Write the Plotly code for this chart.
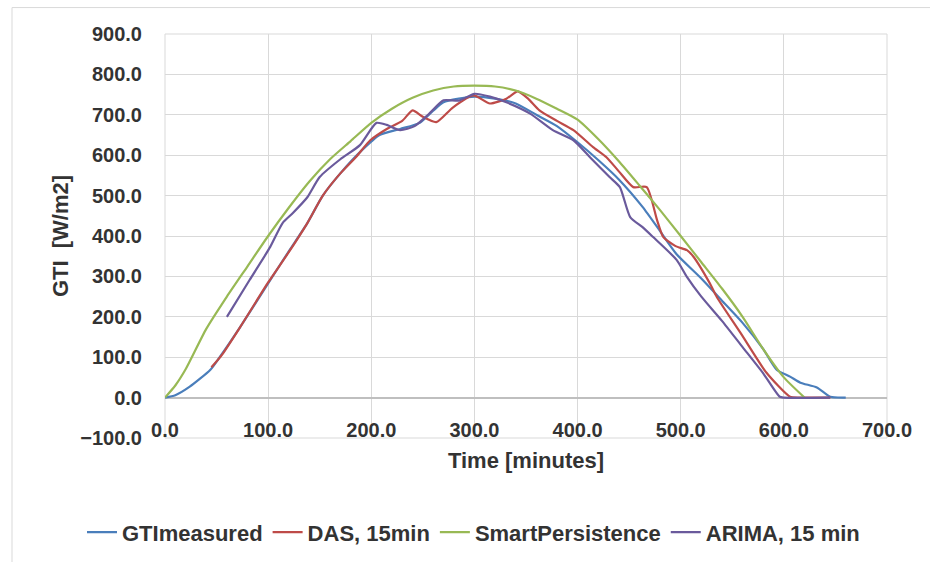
import plotly.graph_objects as go

# ---- data ----
gti_t = [0, 10, 24, 44, 53, 73, 102, 120, 138, 153, 170, 190, 208, 228, 247, 260, 270, 285, 300,
         320, 340, 360, 380, 400, 420, 440, 463, 480, 496, 520, 540, 560, 580, 593, 606, 616, 632,
         645, 660]
gti_v = [0, 6, 27, 69, 100, 175, 291, 362, 432, 500, 555, 610, 650, 665, 680, 710, 731, 740, 745,
         740, 728, 700, 672, 632, 588, 540, 472, 412, 355, 295, 240, 185, 120, 69, 52, 37, 25,
         2, 0]

das_t = [45, 55, 73, 100, 120, 138, 153, 170, 185, 199, 215, 230, 240, 250, 263, 279, 299, 315,
         331, 342, 352, 363, 380, 396, 415, 428, 440, 454, 467, 477, 483, 495, 506, 512, 528, 535,
         558, 583, 606, 615, 645]
das_v = [75, 105, 175, 285, 360, 432, 500, 555, 595, 637, 665, 685, 711, 695, 682, 718, 748, 728,
         740, 758, 740, 711, 685, 662, 620, 595, 560, 521, 521, 440, 398, 375, 365, 350, 284, 249,
         160, 62, 2, 0, 0]

sp_t = [0, 10, 20, 40, 60, 80, 100, 120, 140, 160, 180, 200, 220, 240, 260, 280, 300, 320, 340,
        360, 380, 400, 420, 440, 460, 480, 500, 520, 540, 560, 580, 600, 620]
sp_v = [0, 30, 70, 170, 250, 325, 400, 470, 535, 590, 635, 680, 715, 742, 760, 770, 772, 770, 760,
        740, 715, 688, 640, 585, 525, 464, 400, 335, 270, 200, 120, 50, 0]

ar_t = [60, 82, 102, 114, 124, 138, 150, 170, 189, 205, 215, 228, 242, 255, 270, 285, 300, 315,
        331, 354, 376, 396, 412, 431, 441, 451, 463, 473, 496, 506, 520, 540, 560, 580, 596, 600,
        645]
ar_v = [200, 291, 373, 432, 457, 496, 546, 590, 625, 680, 675, 662, 672, 700, 736, 735, 752, 745,
        731, 703, 662, 637, 595, 546, 521, 447, 422, 398, 341, 299, 250, 190, 125, 60, 2, 0,
        0]

series = [
    ("GTImeasured", gti_t, gti_v, "#4A7EBB"),
    ("DAS, 15min", das_t, das_v, "#BE4B48"),
    ("SmartPersistence", sp_t, sp_v, "#98B954"),
    ("ARIMA, 15 min", ar_t, ar_v, "#6A5A9C"),
]

FONT = "Liberation Sans, Arial, sans-serif"
TXT = "#333333"

fig = go.Figure()
for name, t, v, c in series:
    fig.add_trace(go.Scatter(x=t, y=v, name=name, mode="lines",
                             line=dict(color=c, width=2.2, shape="spline", smoothing=0.6)))

# pixel geometry of the plot area
L, R, T, B = 165, 887, 33.5, 438.5
W, H = 930, 562
pw, ph = R - L, B - T


def px(x):
    return (x - L) / pw


def py(y):
    return (B - y) / ph


fig.update_layout(
    width=W, height=H,
    margin=dict(l=L, r=W - R, t=T, b=H - B, pad=0, autoexpand=False),
    paper_bgcolor="white", plot_bgcolor="white",
    font=dict(family=FONT, color=TXT),
    showlegend=True,
    legend=dict(orientation="h", xref="paper", yref="paper",
                x=px(82), xanchor="left", y=py(533), yanchor="middle",
                font=dict(family=FONT, size=22, weight="bold", color=TXT),
                itemwidth=30, bgcolor="rgba(0,0,0,0)"),
    xaxis=dict(range=[0, 700], dtick=100, tick0=0, tickformat=".1f",
               showgrid=True, gridcolor="#D9D9D9", gridwidth=1,
               zeroline=False, showline=False, automargin=False,
               anchor="free", position=0.1,
               ticks="outside", ticklen=14, tickcolor="rgba(0,0,0,0)",
               tickfont=dict(family=FONT, size=20, weight="bold", color=TXT),
               title=dict(text="Time [minutes]", standoff=13,
                          font=dict(family=FONT, size=22, weight="bold", color=TXT))),
    yaxis=dict(range=[-100, 900], dtick=100, tick0=0, tickformat=".1f",
               showgrid=True, gridcolor="#D9D9D9", gridwidth=1,
               zeroline=True, zerolinecolor="#BFBFBF", zerolinewidth=1.5,
               showline=False, automargin=False,
               ticks="outside", ticklen=18, tickcolor="rgba(0,0,0,0)",
               tickfont=dict(family=FONT, size=20, weight="bold", color=TXT),
               title=dict(text="GTI  [W/m2]", standoff=5,
                          font=dict(family=FONT, size=22, weight="bold", color=TXT))),
    shapes=[
        dict(type="rect", xref="paper", yref="paper", x0=0, x1=1, y0=0, y1=1,
             line=dict(color="#D9D9D9", width=1), layer="below"),
        dict(type="rect", xref="paper", yref="paper", x0=px(12), x1=px(940), y0=py(575), y1=py(7),
             line=dict(color="#D9D9D9", width=1), layer="below"),
    ],
)

fig.write_html("out.html", config={"displayModeBar": False},
               post_script="document.body.style.margin='0';document.body.style.padding='0';")
